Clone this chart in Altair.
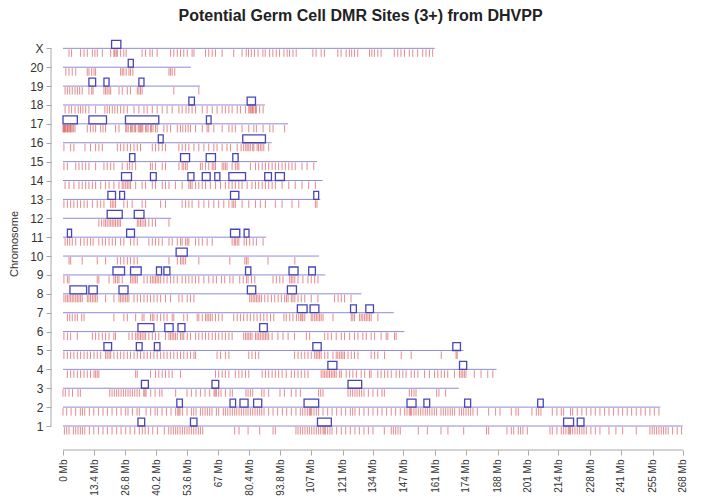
import json
import altair as alt
import pandas as pd

# ---------------- data ----------------
chrom_names = [str(i) for i in range(1, 21)] + ["X"]
chrom_lengths = [267.9, 258.2, 171.1, 187.4, 173.1, 147.6, 143.0, 129.0, 113.4, 110.7,
                 87.8, 46.8, 111.2, 112.2, 109.8, 90.2, 97.3, 87.3, 59.2, 55.3, 160.7]

x_tick_values = [0, 13.4, 26.8, 40.2, 53.6, 67, 80.4, 93.8, 107, 121, 134,
                 147, 161, 174, 188, 201, 214, 228, 241, 255, 268]

sites_1 = [0.6, 1.6, 2.6, 4.5, 5.5, 6.5, 7.5, 8.4, 9.4, 11.4, 13.3, 15.3, 17.3, 19.2, 21.2, 23.2,
           25.1, 27.1, 29.0, 31.0, 33.0, 34.3, 35.5, 36.9, 38.8, 40.8, 43.8, 45.7, 46.7, 47.7, 48.7,
           49.6, 50.6, 51.6, 52.6, 53.6, 54.5, 55.5, 56.5, 57.5, 58.5, 59.4, 60.4, 74.2, 76.1, 80.0,
           85.0, 90.8, 91.8, 100.7, 101.6, 102.6, 103.6, 104.6, 105.6, 106.5, 107.5, 108.5, 109.5,
           110.5, 111.4, 112.4, 112.9, 113.4, 114.4, 115.4, 116.3, 118.3, 120.3, 122.2, 124.2, 126.2,
           128.1, 130.1, 132.0, 134.0, 138.9, 141.9, 142.8, 143.8, 144.8, 145.8, 153.6, 157.5, 163.4,
           166.4, 173.2, 183.1, 184.0, 191.9, 193.8, 194.8, 196.8, 197.8, 198.8, 200.7, 210.5, 211.5,
           213.5, 215.4, 216.4, 217.4, 218.4, 218.9, 219.4, 220.3, 221.3, 222.3, 223.3, 224.3, 225.2,
           226.2, 228.2, 230.1, 232.1, 236.0, 239.0, 241.9, 247.8, 253.7, 254.7, 255.6, 256.6, 257.6,
           258.6, 259.6, 260.6, 261.6, 263.5, 265.5, 267.4]
sites_2 = [0.0, 1.6, 3.5, 5.5, 7.5, 8.4, 9.4, 11.4, 13.3, 15.3, 17.3, 19.2, 21.2, 23.2, 25.1, 27.1,
           28.1, 30.0, 32.0, 33.0, 35.9, 37.9, 39.8, 40.8, 42.8, 44.7, 46.7, 48.7, 49.6, 50.1, 50.6,
           51.6, 53.6, 55.5, 56.5, 57.5, 59.4, 60.4, 61.4, 62.4, 63.4, 64.4, 66.3, 67.3, 69.3, 70.2,
           71.2, 72.2, 73.2, 74.2, 75.1, 76.1, 77.1, 78.1, 79.1, 80.0, 81.0, 82.0, 83.0, 84.0, 85.0,
           85.9, 86.9, 88.9, 90.8, 92.8, 94.8, 96.7, 98.7, 100.7, 102.6, 103.6, 104.6, 105.6, 106.5,
           107.0, 107.5, 108.5, 109.5, 110.5, 112.4, 114.4, 116.3, 118.3, 120.3, 122.2, 124.2, 125.2,
           126.2, 128.1, 130.1, 132.0, 134.0, 136.0, 137.9, 139.9, 141.9, 143.8, 145.8, 147.7, 148.7,
           149.7, 150.2, 150.7, 151.7, 152.6, 153.6, 154.6, 155.6, 156.6, 157.5, 158.5, 159.5, 160.5,
           161.5, 163.4, 164.4, 165.4, 166.4, 167.4, 168.3, 169.3, 171.3, 172.3, 173.2, 174.2, 175.2,
           176.2, 177.2, 179.1, 184.0, 187.0, 188.9, 193.8, 195.8, 196.8, 202.7, 204.6, 205.6, 206.6,
           211.5, 213.5, 215.4, 216.4, 219.4, 220.3, 222.3, 224.3, 226.2, 228.2, 230.1, 232.1, 234.1,
           236.0, 238.0, 240.0, 241.9, 243.9, 245.8, 247.8, 249.8, 251.7, 253.7, 255.6, 257.6]
sites_3 = [0.0, 1.0, 2.6, 4.1, 6.5, 7.5, 20.2, 21.2, 22.2, 23.2, 24.1, 25.1, 26.1, 27.1, 28.1, 29.0,
           30.0, 31.0, 32.0, 33.0, 34.9, 35.4, 35.9, 37.9, 39.8, 41.8, 42.8, 48.7, 53.6, 55.5, 57.5,
           59.4, 61.4, 63.4, 65.3, 65.8, 66.3, 67.3, 68.3, 70.2, 72.2, 73.2, 79.1, 80.0, 81.0, 82.0,
           85.9, 86.9, 88.9, 93.8, 95.7, 98.7, 100.7, 102.6, 110.5, 111.4, 112.4, 123.2, 124.2, 125.2,
           126.2, 127.1, 128.1, 129.1, 130.1, 132.0, 134.0, 136.0, 137.9, 138.9, 149.7, 150.7, 151.7,
           152.6, 161.5, 162.5, 165.4]
sites_4 = [1.9, 3.3, 4.7, 6.2, 7.6, 9.1, 10.5, 11.9, 13.4, 14.1, 14.8, 15.5, 31.4, 32.1, 37.8, 40.0,
           41.4, 42.9, 44.3, 45.8, 47.2, 50.8, 65.9, 67.3, 68.8, 70.2, 71.7, 74.5, 76.0, 77.4, 78.9,
           80.3, 86.1, 87.5, 88.9, 90.4, 91.8, 93.2, 94.7, 96.5, 98.7, 100.1, 101.6, 103.0, 104.5,
           105.9, 111.6, 112.4, 113.1, 113.8, 114.5, 115.2, 116.0, 116.7, 117.4, 118.1, 119.6, 120.3,
           122.4, 123.9, 125.3, 126.8, 128.9, 130.4, 132.5, 133.2, 136.1, 137.5, 139.0, 140.4, 141.9,
           144.0, 145.5, 146.9, 148.3, 150.5, 151.9, 153.4, 156.3, 158.4, 160.6, 162.0, 163.5, 164.9,
           166.3, 169.2, 171.4, 172.1, 172.8, 173.5, 174.2, 177.8, 180.7, 183.6, 185.8]
sites_5 = [0.4, 1.9, 3.3, 4.7, 6.2, 7.6, 9.1, 10.5, 11.9, 13.4, 14.8, 16.3, 18.4, 19.1, 19.9, 20.6,
           22.0, 23.5, 24.9, 26.3, 27.8, 29.2, 30.7, 32.1, 33.5, 35.0, 36.4, 37.8, 39.3, 40.7, 42.2,
           43.6, 45.0, 46.5, 47.9, 49.4, 50.8, 52.2, 53.7, 55.1, 56.6, 57.3, 66.6, 68.1, 70.2, 71.7,
           80.3, 81.7, 83.2, 84.6, 100.1, 101.6, 103.0, 104.5, 105.9, 107.3, 108.8, 109.5, 110.2,
           110.9, 111.6, 113.1, 114.5, 116.7, 118.1, 118.8, 119.6, 120.3, 121.0, 121.7, 123.2, 124.6,
           126.0, 127.5, 133.2, 134.7, 136.1, 139.0, 146.2, 150.5, 163.5, 169.9, 170.4]
sites_6 = [0.4, 1.9, 3.3, 6.2, 12.7, 14.1, 15.5, 17.0, 18.4, 19.9, 22.0, 22.7, 28.5, 29.9, 31.4, 32.1,
           32.8, 33.5, 34.2, 35.0, 35.7, 37.1, 38.6, 40.0, 41.4, 44.3, 45.8, 46.5, 47.2, 47.9, 48.6,
           49.4, 50.8, 51.5, 52.2, 53.7, 55.1, 57.3, 58.7, 60.2, 61.6, 63.0, 64.5, 65.9, 67.3, 68.8,
           70.2, 71.7, 73.1, 78.1, 78.9, 79.6, 80.3, 81.0, 81.7, 83.2, 83.9, 84.6, 85.3, 86.1, 86.8,
           87.5, 88.2, 88.9, 90.4, 92.9, 95.1, 97.3, 100.1, 105.2, 106.6, 113.1, 114.5, 116.0, 118.1,
           120.3, 121.7, 123.9, 126.0, 127.5, 129.6, 131.1, 133.2, 134.7, 137.5, 139.7, 140.4, 143.3,
           144.0]
sites_7 = [1.9, 2.9, 4.0, 5.2, 6.2, 8.1, 9.1, 22.0, 26.3, 27.8, 31.4, 34.2, 35.0, 37.8, 38.6, 39.3,
           40.7, 42.2, 43.6, 45.0, 47.2, 47.9, 52.2, 53.7, 58.0, 58.7, 60.2, 61.6, 62.3, 63.0, 63.7,
           64.5, 65.9, 67.3, 68.8, 73.8, 75.3, 76.7, 78.1, 79.6, 81.0, 82.5, 83.9, 85.3, 86.8, 88.2,
           89.7, 91.1, 95.5, 96.5, 98.0, 99.4, 100.9, 101.9, 102.7, 103.3, 103.7, 104.5, 107.3, 108.0,
           108.8, 109.5, 110.2, 110.9, 111.6, 112.4, 116.7, 124.6, 125.3, 126.0, 128.2, 128.9, 129.6,
           130.4, 131.1, 131.8, 132.5, 133.2, 136.1]
sites_8 = [0.4, 1.2, 1.9, 2.6, 3.3, 4.0, 4.7, 5.5, 6.2, 6.9, 7.6, 8.3, 10.5, 11.2, 11.9, 12.7, 13.4,
           14.1, 14.8, 18.4, 22.0, 24.2, 24.9, 25.6, 26.3, 27.1, 27.8, 28.5, 30.7, 32.1, 33.5, 35.0,
           36.4, 37.8, 39.3, 40.7, 42.2, 44.3, 46.5, 50.1, 51.5, 53.7, 55.1, 56.6, 80.7, 81.4, 82.2,
           82.9, 83.6, 84.3, 85.0, 85.8, 87.2, 88.6, 90.1, 91.5, 93.0, 94.4, 95.8, 96.6, 97.3, 98.7,
           99.4, 100.2, 101.6, 103.0, 104.5, 107.3, 110.2, 117.4, 118.9, 120.3, 121.7, 124.5]
sites_9 = [0.4, 1.9, 2.6, 14.8, 15.5, 19.9, 22.0, 22.7, 23.5, 24.2, 25.6, 29.2, 29.9, 30.7, 31.4,
           32.1, 35.0, 36.4, 37.8, 38.6, 39.3, 40.0, 40.7, 41.4, 42.2, 43.6, 45.0, 46.5, 47.9, 49.4,
           51.5, 53.0, 54.4, 55.8, 57.3, 58.7, 60.9, 63.0, 64.9, 66.3, 68.5, 69.9, 72.1, 73.5, 76.4,
           77.9, 79.3, 80.0, 81.5, 82.9, 90.8, 92.2, 93.7, 95.1, 98.0, 98.7, 99.4, 100.2, 101.6, 103.7,
           105.9, 107.3, 108.8, 110.2]
sites_10 = [2.6, 3.3, 8.3, 14.8, 18.4, 23.5, 24.9, 26.3, 27.8, 29.2, 30.7, 32.1, 45.8, 49.4, 50.8,
            51.5, 52.2, 53.0, 58.7, 72.1, 78.6, 79.3, 80.0, 88.6, 100.2]
sites_11 = [0.9, 1.9, 2.9, 4.0, 5.5, 7.6, 9.1, 10.5, 11.9, 13.0, 15.5, 17.0, 18.4, 19.9, 21.3, 22.7,
            24.9, 26.3, 29.2, 30.7, 32.1, 37.1, 38.6, 40.0, 41.4, 42.9, 45.8, 47.2, 49.4, 50.8, 51.5,
            53.0, 53.7, 54.4, 57.3, 58.7, 60.2, 62.3, 64.5, 73.1, 74.0, 74.5, 75.3, 76.0, 78.3, 79.3,
            80.7, 82.2, 83.6, 86.5]
sites_12 = [15.5, 16.7, 17.7, 18.4, 19.1, 19.9, 20.6, 21.3, 22.0, 22.7, 23.5, 24.2, 24.9, 32.1, 32.8,
            33.5, 34.2, 35.0, 35.7, 37.1, 38.6, 40.0, 45.8]
sites_13 = [0.4, 1.9, 3.3, 4.7, 6.2, 7.6, 9.1, 10.5, 12.7, 14.8, 16.3, 17.7, 20.6, 21.3, 22.0, 22.7,
            26.3, 27.8, 29.9, 34.2, 35.7, 42.2, 44.3, 51.5, 53.0, 54.4, 55.8, 58.7, 60.9, 63.0, 65.2,
            67.3, 69.5, 71.7, 73.1, 73.8, 74.5, 77.4, 80.3, 83.2, 85.3, 87.5, 91.8, 94.7, 99.0, 101.9,
            109.1, 109.8]
sites_14 = [0.9, 2.6, 4.7, 6.9, 8.3, 9.8, 11.2, 12.7, 14.1, 16.3, 18.4, 19.9, 22.0, 24.2, 25.6, 26.3,
            27.1, 27.8, 28.5, 29.2, 31.4, 34.2, 35.7, 38.6, 40.0, 42.9, 44.3, 45.8, 48.6, 51.5, 54.4,
            55.1, 55.8, 57.3, 58.7, 60.2, 61.6, 63.7, 65.9, 68.1, 70.2, 71.7, 73.1, 74.5, 76.0, 77.4,
            79.6, 81.7, 83.2, 84.6, 86.1, 87.5, 88.9, 90.4, 91.8, 94.7, 97.6, 100.4, 103.3, 106.2, 109.1]
sites_15 = [0.4, 1.9, 5.5, 6.9, 8.3, 9.8, 11.2, 14.1, 17.7, 19.1, 20.6, 22.0, 25.6, 27.8, 28.8, 29.9,
            31.4, 37.8, 38.6, 40.0, 42.9, 44.3, 50.1, 51.5, 52.2, 53.0, 53.7, 59.4, 60.2, 61.6, 63.0,
            64.5, 65.2, 65.9, 68.8, 69.5, 70.2, 70.9, 73.1, 74.5, 75.3, 76.0, 81.0, 83.2, 84.6, 86.1,
            87.5, 88.9, 90.4, 91.8, 93.2, 94.7, 96.1, 97.6, 99.0, 100.4, 103.3, 105.5, 108.4]
sites_16 = [0.4, 3.3, 4.7, 9.5, 11.9, 14.1, 15.5, 17.0, 23.5, 24.9, 26.3, 27.8, 29.2, 30.7, 32.1,
            33.5, 38.6, 40.0, 41.4, 42.9, 44.3, 50.1, 51.5, 53.0, 54.4, 56.6, 58.7, 60.9, 63.0, 65.2,
            66.6, 68.8, 70.9, 72.4, 75.3, 77.0, 78.1, 79.0, 79.6, 80.3, 81.0, 82.0, 82.5, 83.9, 84.5,
            85.3, 86.0, 86.8, 88.9]
sites_17 = [0.0, 0.3, 0.6, 0.9, 1.2, 1.7, 2.0, 2.3, 2.9, 3.2, 3.5, 4.0, 4.6, 5.2, 10.5, 11.9, 13.0,
            14.1, 16.3, 17.3, 18.4, 22.7, 24.2, 27.1, 27.6, 28.2, 29.2, 29.7, 30.2, 31.0, 31.4, 32.5,
            33.0, 33.5, 34.0, 34.5, 35.7, 36.2, 36.8, 37.8, 38.2, 38.9, 40.0, 40.7, 43.6, 45.0, 46.5,
            49.4, 50.8, 51.8, 53.0, 54.1, 55.1, 57.3, 60.2, 62.3, 63.0, 65.2, 68.8, 71.7, 73.1, 74.5,
            77.4, 80.3, 82.5, 83.6, 86.5, 89.4, 90.8, 95.8]
sites_18 = [0.9, 2.6, 3.7, 5.2, 6.6, 7.6, 8.6, 9.8, 11.2, 14.1, 18.1, 19.1, 20.1, 21.3, 22.4, 23.5,
            24.9, 26.3, 27.8, 30.7, 32.8, 35.0, 36.4, 38.6, 40.7, 42.9, 45.0, 47.2, 50.1, 51.5, 53.2,
            54.4, 55.8, 57.3, 60.2, 62.3, 64.5, 66.6, 68.8, 70.2, 71.7, 73.1, 75.3, 76.7, 78.9, 80.3,
            80.8, 81.2, 81.7, 82.0, 82.5, 83.2, 83.6, 85.0, 86.5]
sites_19 = [0.9, 1.9, 2.9, 4.0, 5.2, 6.2, 7.2, 8.3, 11.2, 12.4, 13.0, 17.7, 18.4, 19.1, 19.9, 20.6,
            24.2, 25.6, 27.8, 29.2, 32.1, 32.8, 33.5, 34.2, 47.9, 58.7]
sites_20 = [1.2, 2.6, 4.0, 5.5, 10.5, 11.2, 12.4, 13.4, 14.1, 24.9, 25.6, 26.3, 27.3, 28.5, 29.2,
            30.2, 45.8, 46.5, 47.2, 48.3]
sites_X = [2.6, 3.7, 7.6, 9.1, 10.5, 12.7, 13.8, 14.8, 17.0, 20.6, 22.0, 22.4, 23.0, 23.5, 24.9,
           26.3, 27.3, 34.2, 35.7, 37.6, 38.6, 40.7, 46.5, 47.9, 49.4, 50.8, 52.2, 53.7, 55.8, 56.6,
           61.6, 63.0, 64.5, 65.9, 68.8, 73.8, 77.4, 79.2, 80.2, 81.4, 82.8, 84.3, 86.4, 87.4, 89.3,
           90.7, 92.2, 93.6, 95.5, 96.9, 97.9, 99.4, 100.8, 108.0, 109.4, 111.6, 113.0, 118.8, 120.2,
           122.4, 123.8, 124.8, 126.0, 127.4, 132.5, 133.5, 134.6, 136.1, 137.5, 143.2, 144.7, 146.1,
           147.6, 149.7, 151.2, 153.3, 155.5, 156.9, 158.4, 159.8]

clusters_1 = [[32.4, 35.3], [55.1, 57.9], [110.0, 116.0], [216.4, 220.7], [222.3, 225.2]]
clusters_2 = [[49.2, 51.6], [72.2, 74.6], [76.5, 80.0], [82.4, 85.9], [104.2, 110.5],
              [148.7, 152.6], [156.0, 158.5], [173.6, 176.2], [205.2, 207.6]]
clusters_3 = [[33.9, 36.9], [64.4, 67.3], [123.2, 129.1]]
clusters_4 = [[114.5, 118.4], [171.4, 174.5]]
clusters_5 = [[17.7, 21.0], [31.7, 34.2], [39.5, 41.9], [108.0, 111.6], [168.5, 171.8]]
clusters_6 = [[32.4, 39.3], [44.0, 47.6], [49.7, 52.7], [85.0, 88.3]]
clusters_7 = [[101.3, 105.5], [106.8, 110.6], [124.3, 126.8], [130.9, 134.2]]
clusters_8 = [[3.0, 10.2], [11.2, 14.8], [24.2, 28.1], [79.7, 83.3], [97.0, 100.9]]
clusters_9 = [[21.6, 26.6], [29.2, 33.8], [40.4, 42.6], [43.6, 46.2], [78.9, 81.2],
              [97.7, 101.6], [106.2, 109.1]]
clusters_10 = [[48.9, 53.7]]
clusters_11 = [[1.9, 3.7], [27.5, 30.9], [72.4, 76.4], [78.3, 80.4]]
clusters_12 = [[19.1, 25.6], [30.8, 35.0]]
clusters_13 = [[19.4, 22.7], [24.5, 26.6], [72.4, 76.0], [108.4, 110.5]]
clusters_14 = [[25.3, 29.6], [37.8, 40.3], [54.0, 56.6], [60.2, 63.6], [65.6, 67.8],
               [71.7, 78.9], [87.2, 90.1], [91.8, 95.7]]
clusters_15 = [[28.8, 31.1], [50.8, 54.7], [61.9, 65.9], [73.4, 75.7]]
clusters_16 = [[41.2, 43.3], [77.7, 87.5]]
clusters_17 = [[0.0, 6.2], [11.2, 18.8], [27.0, 41.4], [62.0, 64.0]]
clusters_18 = [[54.4, 56.8], [79.6, 83.2]]
clusters_19 = [[11.2, 14.1], [17.7, 19.9], [32.8, 35.0]]
clusters_20 = [[28.2, 30.4]]
clusters_X = [[21.0, 25.0]]

all_sites = [sites_1, sites_2, sites_3, sites_4, sites_5, sites_6, sites_7, sites_8, sites_9,
             sites_10, sites_11, sites_12, sites_13, sites_14, sites_15, sites_16, sites_17,
             sites_18, sites_19, sites_20, sites_X]
all_clusters = [clusters_1, clusters_2, clusters_3, clusters_4, clusters_5, clusters_6, clusters_7,
                clusters_8, clusters_9, clusters_10, clusters_11, clusters_12, clusters_13,
                clusters_14, clusters_15, clusters_16, clusters_17, clusters_18, clusters_19,
                clusters_20, clusters_X]

# ---------------- frames ----------------
lines_df = pd.DataFrame({"row": list(range(1, 22)), "start": 0.0, "length": chrom_lengths})
site_rows = []
for i, lst in enumerate(all_sites):
    for p in lst:
        site_rows.append({"row": i + 1, "pos": p, "top": i + 1 - 0.05, "bot": i + 1 - 0.45})
sites_df = pd.DataFrame(site_rows)
box_rows = []
for i, lst in enumerate(all_clusters):
    for s, e in lst:
        box_rows.append({"row": i + 1, "start": s, "end": e, "top": i + 1 + 0.42})
boxes_df = pd.DataFrame(box_rows)
xaxis_df = pd.DataFrame({"lo": [0.0], "hi": [268.0]})
yaxis_df = pd.DataFrame({"lo": [1.0], "hi": [21.0]})

# ---------------- layout ----------------
W, H = 639, 413
xscale = alt.Scale(domain=[-5.19, 271.03], nice=False, zero=False)
yscale = alt.Scale(domain=[-0.27, 21.6], nice=False, zero=False)
axis_col = "#a8a8a8"
label_col = "#333333"
y_label_expr = json.dumps(chrom_names).replace('"', "'") + "[datum.value - 1]"

xaxis = alt.Axis(values=x_tick_values, labelExpr="datum.value + ' Mb'", labelAngle=270,
                 labelAlign="right", labelBaseline="middle", labelFontSize=10,
                 labelColor=label_col, labelPadding=4, tickSize=5, tickColor=axis_col,
                 tickCount=40, domain=False, grid=False, title=None, labelOverlap=False,
                 labelFont="Liberation Sans")
yaxis = alt.Axis(values=list(range(1, 22)), labelExpr=y_label_expr, tickCount=40,
                 labelFontSize=12, labelColor=label_col, labelPadding=3, tickSize=5,
                 tickColor=axis_col, domain=False, grid=False, title="Chromosome",
                 titleFontSize=11, titleFontWeight="normal", titleColor=label_col,
                 titlePadding=10, labelOverlap=False,
                 labelFont="Liberation Sans", titleFont="Liberation Sans")

chrom_lines = alt.Chart(lines_df).mark_rule(color="#8c8cd9", strokeWidth=1).encode(
    x=alt.X("start:Q", scale=xscale, axis=xaxis),
    x2="length:Q",
    y=alt.Y("row:Q", scale=yscale, axis=yaxis),
)

site_ticks = alt.Chart(sites_df).mark_rule(color="#d01818", opacity=0.5, strokeWidth=1).encode(
    x=alt.X("pos:Q", scale=xscale),
    y=alt.Y("top:Q", scale=yscale),
    y2="bot:Q",
)

cluster_boxes = alt.Chart(boxes_df).mark_rect(
    stroke="#4646b8", strokeWidth=1.3, fillOpacity=0, fill="white"
).encode(
    x=alt.X("start:Q", scale=xscale),
    x2="end:Q",
    y=alt.Y("row:Q", scale=yscale),
    y2="top:Q",
)

x_axis_line = alt.Chart(xaxis_df).mark_rule(color=axis_col, strokeWidth=1).encode(
    x=alt.X("lo:Q", scale=xscale), x2="hi:Q", y=alt.value(H)
)
y_axis_line = alt.Chart(yaxis_df).mark_rule(color=axis_col, strokeWidth=1).encode(
    y=alt.Y("lo:Q", scale=yscale), y2="hi:Q", x=alt.value(0)
)

chart = alt.layer(
    chrom_lines, site_ticks, cluster_boxes, x_axis_line, y_axis_line
).properties(
    width=W, height=H,
    title=alt.TitleParams("Potential Germ Cell DMR Sites (3+) from DHVPP", anchor="middle",
                          frame="group", fontSize=16, fontWeight="bold",
                          font="Liberation Sans", color="#222222", offset=13, dx=-10),
    padding={"left": 0, "top": 0, "right": 5, "bottom": 0},
).configure_view(stroke=None)

chart.save("out.html", embed_options={"renderer": "svg", "actions": False})
